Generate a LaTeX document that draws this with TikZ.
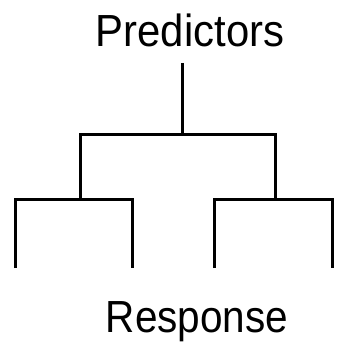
\documentclass[tikz,border=0pt]{standalone}
\usepackage{fontspec}
\setmainfont{Liberation Sans}
\newcommand{\toplev}{134}
\newcommand{\sublev}{199}
\newcommand{\leglev}{268}
\newcommand{\labelfont}{\fontsize{45}{48}\selectfont}

\begin{document}
\begin{tikzpicture}[x=1pt, y=-1pt, line width=3pt]
        \useasboundingbox (0,0) rectangle (338,342);

        % labels
        \node[anchor=base, font=\labelfont, xscale=0.93, inner ysep=14pt] (pred) at (190,47) {Predictors};
        \node[anchor=base, font=\labelfont, xscale=0.9] (resp) at (197,332) {Response};

        \coordinate (split) at (182, \toplev);
        \coordinate (leftA) at (80, \toplev);
        \coordinate (rightA) at (275, \toplev);
        \coordinate (leftB) at (80, \sublev);
        \coordinate (rightB) at (275, \sublev);

        \coordinate (leftC) at (15, \sublev);
        \coordinate (leftD) at (132, \sublev);
        \coordinate (rightC) at (214, \sublev);
        \coordinate (rightD) at (332, \sublev);
        \coordinate (leftE) at (15, \leglev);
        \coordinate (leftF) at (132, \leglev);
        \coordinate (rightE) at (214, \leglev);
        \coordinate (rightF) at (332, \leglev);

        % stem
        \draw (pred.south -| split) -- (split);

        % brackets
        \draw (leftB) -- (leftA) -- (rightA) -- (rightB);
        \draw (leftE) -- (leftC) -- (leftD) -- (leftF);
        \draw (rightE) -- (rightC) -- (rightD) -- (rightF);
    \end{tikzpicture}
\end{document}
